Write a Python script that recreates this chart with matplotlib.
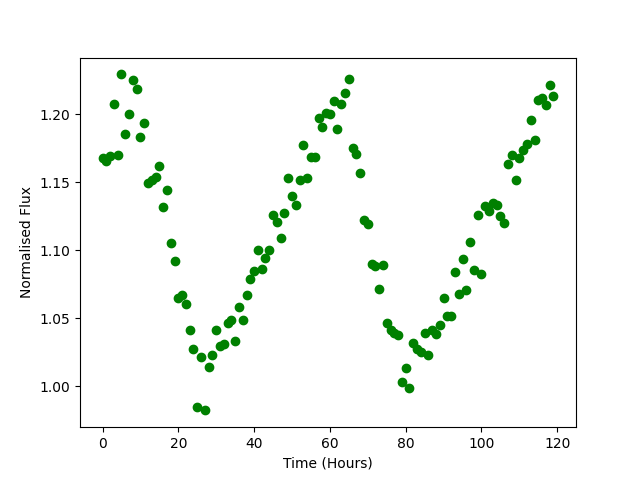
import matplotlib
matplotlib.use("Agg")
import matplotlib.pyplot as plt

# temps en heures, un point par heure
temps = list(range(120))

flux = [
    1.1678, 1.1654, 1.1690, 1.2073, 1.1703, 1.2293, 1.1857, 1.2004, 1.2254, 1.2188,
    1.1835, 1.1938, 1.1497, 1.1514, 1.1536, 1.1622, 1.1316, 1.1446, 1.1051, 1.0919,
    1.0647, 1.0669, 1.0605, 1.0412, 1.0272, 0.9846, 1.0215, 0.9824, 1.0142, 1.0233,
    1.0412, 1.0296, 1.0311, 1.0468, 1.0490, 1.0336, 1.0586, 1.0490, 1.0674, 1.0792,
    1.0845, 1.1000, 1.0865, 1.0946, 1.1000, 1.1262, 1.1208, 1.1093, 1.1277, 1.1534,
    1.1397, 1.1336, 1.1519, 1.1771, 1.1529, 1.1683, 1.1683, 1.1975, 1.1909, 1.2012,
    1.2005, 1.2100, 1.1895, 1.2078, 1.2159, 1.2262, 1.1755, 1.1711, 1.1571, 1.1220,
    1.1196, 1.0897, 1.0882, 1.0718, 1.0890, 1.0465, 1.0412, 1.0392, 1.0375, 1.0030,
    1.0137, 0.9990, 1.0316, 1.0275, 1.0250, 1.0395, 1.0228, 1.0417, 1.0387, 1.0454,
    1.0647, 1.0520, 1.0520, 1.0843, 1.0681, 1.0939, 1.0706, 1.1063, 1.0858, 1.1257,
    1.0828, 1.1325, 1.1289, 1.1347, 1.1335, 1.1252, 1.1203, 1.1637, 1.1698, 1.1514,
    1.1678, 1.1735, 1.1784, 1.1960, 1.1813, 1.2107, 1.2122, 1.2070, 1.2212, 1.2132,
]

plt.figure(figsize=(6.4, 4.8), dpi=100)
plt.plot(temps, flux, 'o', color='green')
plt.xlabel('Time (Hours)')
plt.ylabel('Normalised Flux')
plt.savefig('out.png')
